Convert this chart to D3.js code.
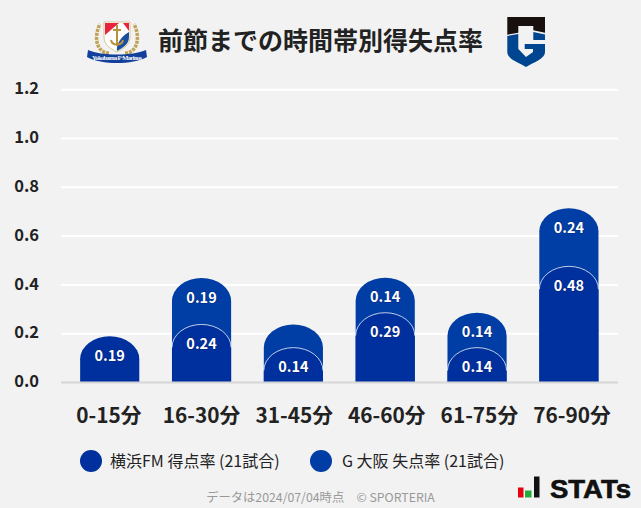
<!DOCTYPE html>
<html>
<head>
<meta charset="utf-8">
<script src="https://cdn.jsdelivr.net/npm/d3@7"></script>
<style>
  html, body { margin: 0; padding: 0; background: #f2f2f2; }
  svg { display: block; }
  text { font-family: "Noto Sans CJK JP", "Noto Sans", sans-serif; }
</style>
</head>
<body>
<svg id="chart" width="641" height="508"></svg>
<script>
// values, labels show them at 2 decimals
const periods = ["0-15分", "16-30分", "31-45分", "46-60分", "61-75分", "76-90分"];
const fmFor = [0.19, 0.238, 0.143, 0.286, 0.143, 0.476];
const gOsakaAgainst = [0, 0.19, 0.095, 0.143, 0.143, 0.238];
const yTicks = [0, 0.2, 0.4, 0.6, 0.8, 1.0, 1.2];
const legendLabels = ["横浜FM 得点率 (21試合)", "G 大阪 失点率 (21試合)"];
const titleText = "前節までの時間帯別得失点率";
const footText = "データは2024/07/04時点　© SPORTERIA";

const colFm = "#00309e";
const colG = "#003da5";

const rows = periods.map((p, i) => ({ p, a: fmFor[i], b: gOsakaAgainst[i] }));

const svg = d3.select("#chart");

const x = d3.scaleBand().domain(periods).range([63.8, 614.8]).paddingInner(0.356).paddingOuter(0.178);
// the category labels sit a little wider apart than the bars
const xLabel = d3.scalePoint().domain(periods).range([108.5, 571.5]);
const y = d3.scaleLinear().domain([0, 1.2]).range([382.5, 89.7]);

// grid
svg.append("g").selectAll("line").data(yTicks.slice(1)).join("line")
  .attr("x1", 61).attr("x2", 618)
  .attr("y1", d => y(d)).attr("y2", d => y(d))
  .attr("stroke", "#fff").attr("stroke-width", 2);

// y axis, domain removed, only the labels are kept
const yAxis = svg.append("g").attr("transform", "translate(39,-1)")
  .call(d3.axisLeft(y).tickValues(yTicks).tickFormat(d3.format(".1f")).tickSize(0).tickPadding(0));
yAxis.select(".domain").remove();
yAxis.selectAll("text").attr("font-size", 16.5).attr("font-weight", 700).attr("fill", "#222")
  .style("font-family", '"Noto Sans CJK JP"');

// x axis labels
const xAxis = svg.append("g").attr("transform", "translate(0,382.5)")
  .call(d3.axisBottom(xLabel).tickSize(0).tickPadding(26));
xAxis.select(".domain").remove();
xAxis.selectAll("text").attr("font-size", 20.8).attr("font-weight", 700).attr("fill", "#222")
  .style("font-family", '"Noto Sans CJK JP"');

// rounded top bar, the corners are wider than they are tall
const arcH = 23;
function barPath(left, w, top, bottom) {
  const h = Math.min(arcH, bottom - top);
  return `M${left},${bottom}V${top + h}A${w / 2},${h} 0 0 1 ${left + w},${top + h}V${bottom}Z`;
}
function arcPath(left, w, top, bottom) {
  const h = Math.min(arcH, bottom - top);
  return `M${left},${top + h}A${w / 2},${h} 0 0 1 ${left + w},${top + h}`;
}

const bars = svg.append("g").selectAll("g").data(rows).join("g");

// upper series first, lower one sits on top and overlaps it
bars.filter(d => d.b > 0).append("path")
  .attr("d", d => barPath(x(d.p), x.bandwidth(), y(d.a + d.b), y(0)))
  .attr("fill", colG);

bars.append("path")
  .attr("d", d => barPath(x(d.p), x.bandwidth(), y(d.a), y(0)))
  .attr("fill", colFm);

bars.filter(d => d.b > 0).append("path")
  .attr("d", d => arcPath(x(d.p), x.bandwidth(), y(d.a), y(0)))
  .attr("fill", "none").attr("stroke", "#fff").attr("stroke-opacity", 0.75).attr("stroke-width", 1);

// baseline
svg.append("line").attr("x1", 61).attr("x2", 618).attr("y1", y(0)).attr("y2", y(0))
  .attr("stroke", "#d6d6d6").attr("stroke-width", 2);

// value labels, small ones are left out like in the original
const labelStyle = s => s.attr("text-anchor", "middle").attr("font-size", 14.5).attr("font-weight", 700)
  .attr("fill", "#fff").attr("dominant-baseline", "central")
  .style("paint-order", "stroke").style("stroke", "rgba(0,0,40,.35)").style("stroke-width", 1);

bars.append("text").call(labelStyle)
  .attr("x", d => x(d.p) + x.bandwidth() / 2)
  .attr("y", d => y(d.a) + 18)
  .text(d => d.a.toFixed(2));

bars.filter(d => d.b > 0.1).append("text").call(labelStyle)
  .attr("x", d => x(d.p) + x.bandwidth() / 2)
  .attr("y", d => y(d.a + d.b) + 18)
  .text(d => d.b.toFixed(2));

// title
svg.append("text").attr("x", 320.5).attr("y", 50).attr("text-anchor", "middle")
  .attr("font-size", 25).attr("font-weight", 700).attr("fill", "#222").text(titleText);

// legend
const legendX = [91, 321];
const legend = svg.append("g").selectAll("g").data(legendLabels).join("g")
  .attr("transform", (d, i) => `translate(${legendX[i]},461)`);
legend.append("circle").attr("r", 11).attr("fill", (d, i) => i ? colG : colFm);
legend.append("text").attr("x", (d, i) => i ? 21 : 19).attr("y", 5.5)
  .attr("font-size", 16).attr("font-weight", 400).attr("fill", "#222").text(d => d);

// footer
svg.append("text").attr("x", 320.5).attr("y", 502).attr("text-anchor", "middle")
  .attr("font-size", 12.3).attr("fill", "#999").text(footText);

// marinos crest, rough version
const crest = svg.append("g").attr("transform", "translate(117,40)");
[-1, 1].forEach(s => {
  crest.append("path")
    .attr("d", `M${s * 8},13C${s * 20},13 ${s * 24},-2 ${s * 17},-16`)
    .attr("fill", "none").attr("stroke", "#c2a253").attr("stroke-width", 3.5).attr("stroke-dasharray", "3 1");
});
crest.append("path").attr("d", "M-13,-18H13V-3C13,5 6,9 0,12C-6,9 -13,5 -13,-3Z").attr("fill", "#fff").attr("stroke", "#c9b06a").attr("stroke-width", 0.7);
crest.append("path").attr("d", "M-12,-17H2L-12,-5Z").attr("fill", "#e8233c");
crest.append("path").attr("d", "M12,-17V-9L6,-17Z").attr("fill", "#e8233c");
crest.append("path").attr("d", "M12,-8V-3C12,4 6,8 0,11C-1,5 3,-3 12,-8Z").attr("fill", "#1a4fa0");
crest.append("path").attr("d", "M0,-15V6M-6,0C-5,6 5,6 6,0M-4,-10H4").attr("fill", "none").attr("stroke", "#b7933c").attr("stroke-width", 2);
crest.append("path").attr("d", "M-29,10C-15,16 15,16 29,10L30,17C15,25 -15,25 -30,17Z").attr("fill", "#13409a");
crest.append("text").attr("y", 20).attr("text-anchor", "middle").attr("font-size", 6.5).attr("font-weight", 700)
  .attr("fill", "#fff").attr("textLength", 50).style("font-family", '"Liberation Serif"').text("Yokohama F·Marinos");

// gamba badge
const gamba = svg.append("g").attr("transform", "translate(527,42)");
gamba.append("path").attr("d", "M-19.7,-25H18V-9.3L6.3,-11.7V-16H-8.7V-9.3L-19.7,-7.3Z").attr("fill", "#17100e");
gamba.append("path").attr("d", "M-19.7,-6L-8.7,-8V7L-1,15L6,10V7H-2.3V2H18V10C18,17 7,20 -1,25C-9,20 -19.7,17 -19.7,10Z").attr("fill", "#00458f");
gamba.append("path").attr("d", "M6.3,-10L18,-7.5V-2H6.3Z").attr("fill", "#00458f");

// stats logo
const stats = svg.append("g").attr("transform", "translate(518,497.5)");
stats.append("rect").attr("y", -10).attr("width", 5.5).attr("height", 10).attr("fill", "#e60012");
stats.append("rect").attr("x", 7).attr("y", -7).attr("width", 6.5).attr("height", 7).attr("fill", "#22ac38");
stats.append("rect").attr("x", 16).attr("y", -21).attr("width", 5.5).attr("height", 21).attr("fill", "#111");
stats.append("text").attr("x", 32).attr("y", 0).attr("font-size", 25).attr("font-weight", 700)
  .attr("fill", "#111").attr("stroke", "#111").attr("stroke-width", 0.6)
  .attr("textLength", 81).attr("lengthAdjust", "spacingAndGlyphs")
  .style("font-family", '"Liberation Sans"').text("STATs");
</script>
</body>
</html>
